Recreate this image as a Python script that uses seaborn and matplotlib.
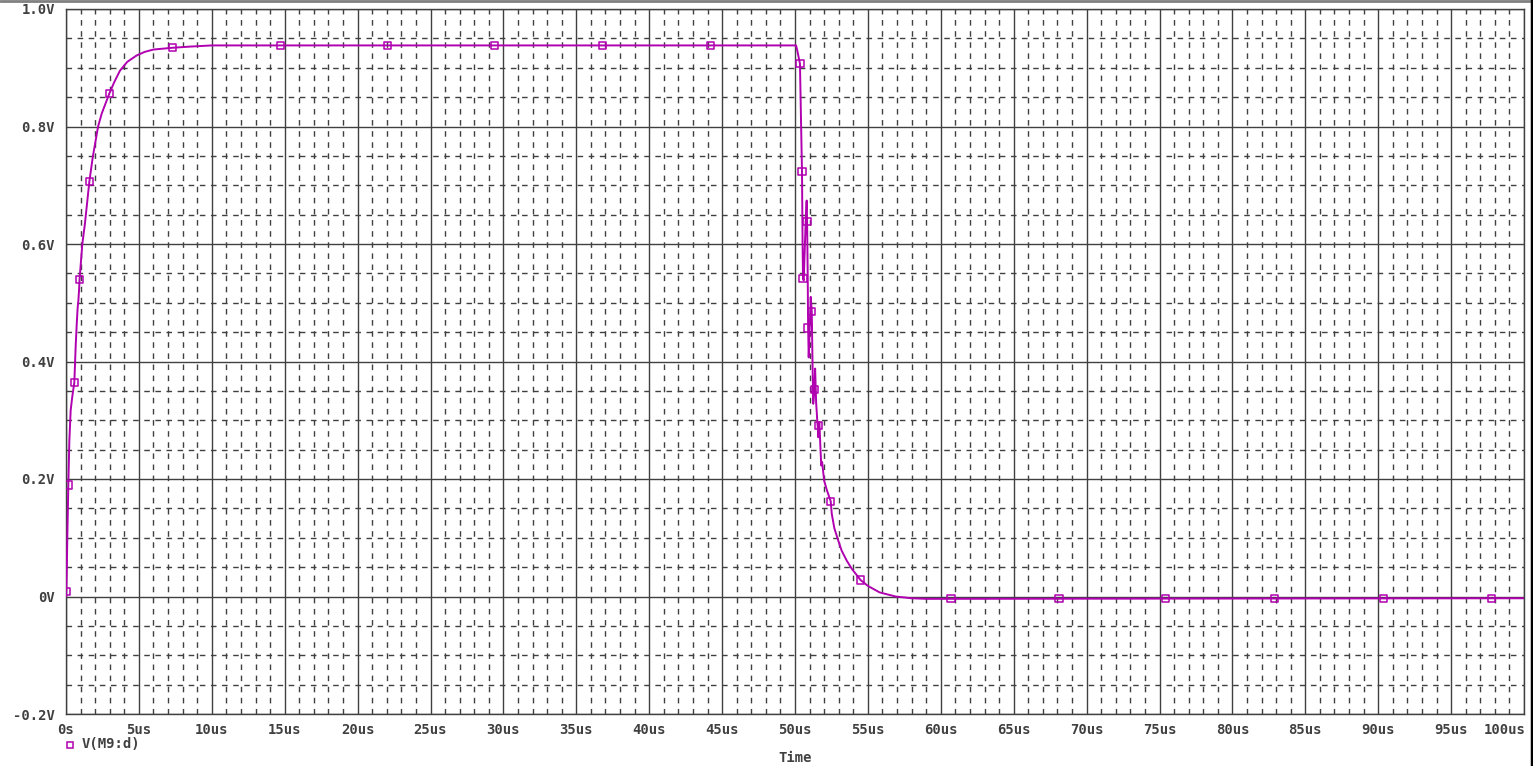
import numpy as np
import pandas as pd
import seaborn as sns
import matplotlib
matplotlib.use("Agg")
import matplotlib.pyplot as plt
from matplotlib.lines import Line2D
from matplotlib.ticker import MultipleLocator, FixedLocator
from matplotlib.transforms import ScaledTranslation

# ---- data (time in us, voltage in V) ----
time_us = [0.0, 0.02, 0.05, 0.09, 0.16, 0.23, 0.32, 0.43, 0.57, 0.61, 0.66, 0.73, 0.80, 0.85,
           0.90, 0.93, 1.12, 1.30, 1.60, 1.83, 2.20, 2.45, 2.97, 3.30, 3.70, 4.20, 4.85, 5.40,
           6.00, 7.30, 8.50, 10.0, 50.07, 50.15, 50.34, 50.42, 50.48, 50.52, 50.55, 50.60,
           50.68, 50.75, 50.80, 50.83, 50.87, 50.90, 50.94, 51.00, 51.08, 51.15, 51.20, 51.25,
           51.33, 51.38, 51.45, 51.60, 51.63, 51.67, 51.75, 51.80, 51.86, 52.00, 52.20, 52.45,
           52.52, 52.70, 52.97, 53.20, 53.55, 53.90, 54.50, 55.00, 55.80, 56.90, 58.00, 59.00,
           100.0]
volts = [0.0, 0.009, 0.04, 0.10, 0.19, 0.265, 0.317, 0.34, 0.364, 0.39, 0.424, 0.461, 0.492, 0.504,
         0.524, 0.54, 0.60, 0.635, 0.706, 0.747, 0.80, 0.822, 0.856, 0.875, 0.895, 0.91, 0.921, 0.927,
         0.931, 0.934, 0.936, 0.938, 0.938, 0.93, 0.907, 0.80, 0.723, 0.60, 0.541, 0.538,
         0.60, 0.65, 0.674, 0.638, 0.55, 0.457, 0.407, 0.45, 0.51, 0.485, 0.40, 0.328,
         0.352, 0.388, 0.33, 0.271, 0.291, 0.297, 0.25, 0.223, 0.229, 0.197, 0.18, 0.162,
         0.141, 0.116, 0.095, 0.078, 0.061, 0.047, 0.028, 0.018, 0.007, 0.0, -0.003, -0.004,
         -0.003]

marker_t = [0.02, 0.16, 0.57, 0.93, 1.60, 2.97, 7.30, 14.7, 22.05, 29.4, 36.8, 44.2,
            50.34, 50.48, 50.55, 50.83, 50.90, 51.15, 51.33, 51.63, 52.45, 54.5,
            60.7, 68.1, 75.4, 82.9, 90.35, 97.75]
marker_v = [0.009, 0.19, 0.364, 0.54, 0.706, 0.856, 0.934, 0.938, 0.938, 0.938, 0.938, 0.938,
            0.907, 0.723, 0.541, 0.638, 0.457, 0.485, 0.352, 0.291, 0.162, 0.028,
            -0.003, -0.003, -0.003, -0.003, -0.003, -0.003]

y_ticks = [-0.2, 0.0, 0.2, 0.4, 0.6, 0.8, 1.0]
y_labels = ["-0.2V", "0V", "0.2V", "0.4V", "0.6V", "0.8V", "1.0V"]
x_ticks = list(range(0, 101, 5))
x_labels = ["0s"] + [f"{v}us" for v in x_ticks[1:]]
series_name = "V(M9:d)"

MAG = "#B000B0"
GRID = "#404040"
TXT = "#404040"
FS = 10

sns.set_style("white")
plt.rcParams["font.family"] = ["DejaVu Sans Mono", "DejaVu Sans"]

fig = plt.figure(figsize=(15.33, 7.66), dpi=100)
ax = fig.add_axes([66 / 1533, 1 - 714 / 766, (1524 - 66) / 1533, (714 - 9) / 766])

trace = pd.DataFrame({"t": time_us, "v": volts})
marks = pd.DataFrame({"t": marker_t, "v": marker_v})

sns.lineplot(data=trace, x="t", y="v", ax=ax, color=MAG, linewidth=1.4,
             sort=False, estimator=None, zorder=3)
sns.scatterplot(data=marks, x="t", y="v", ax=ax, marker="s", s=28,
                facecolor="none", edgecolor=MAG, linewidth=1.1, zorder=4)

ax.set_xlim(0, 100)
ax.set_ylim(-0.2, 1.0)
ax.xaxis.set_major_locator(FixedLocator(x_ticks))
ax.yaxis.set_major_locator(FixedLocator(y_ticks))
ax.xaxis.set_minor_locator(MultipleLocator(1))
ax.yaxis.set_minor_locator(MultipleLocator(0.05))
ax.set_xticklabels(x_labels)
ax.set_yticklabels(y_labels)

ax.grid(which="major", color=GRID, linestyle="-", linewidth=1.0)
ax.grid(which="minor", color=GRID, linestyle=(0, (4, 4)), linewidth=1.0)
ax.set_axisbelow(True)

for side in ["left", "bottom", "top", "right"]:
    ax.spines[side].set_visible(True)
    ax.spines[side].set_color(GRID)
    ax.spines[side].set_linewidth(1.0)

ax.tick_params(which="major", direction="out", length=5, width=1, color=GRID,
               labelsize=FS, labelcolor=TXT, pad=3)
ax.tick_params(which="minor", length=0)
ax.tick_params(axis="x", pad=1.5)
for lab in ax.get_xticklabels() + ax.get_yticklabels():
    lab.set_fontweight("bold")
last = ax.get_xticklabels()[-1]
last.set_horizontalalignment("right")
last.set_transform(last.get_transform() + ScaledTranslation(2 / 100, 0, fig.dpi_scale_trans))

ax.set_xlabel("")
ax.set_ylabel("")
fig.text(795 / 1533, 1 - 758 / 766, "Time", ha="center", va="center",
         fontsize=FS, fontweight="bold", color=TXT)

# legend
fig.add_artist(Line2D([70 / 1533], [1 - 745 / 766], marker="s", markersize=5,
                      markerfacecolor="none", markeredgecolor=MAG, markeredgewidth=1.1,
                      linestyle="none", transform=fig.transFigure))
fig.text(82 / 1533, 1 - 744 / 766, series_name, ha="left", va="center",
         fontsize=FS, fontweight="bold", color=TXT)

# window borders
fig.add_artist(Line2D([0, 1], [1 - 1 / 766, 1 - 1 / 766], color="#808080", linewidth=2,
                      transform=fig.transFigure))
fig.add_artist(Line2D([1 - 1 / 1533, 1 - 1 / 1533], [0, 1], color="black", linewidth=2.5,
                      transform=fig.transFigure))

fig.savefig("out.png", dpi=100, facecolor="white")
